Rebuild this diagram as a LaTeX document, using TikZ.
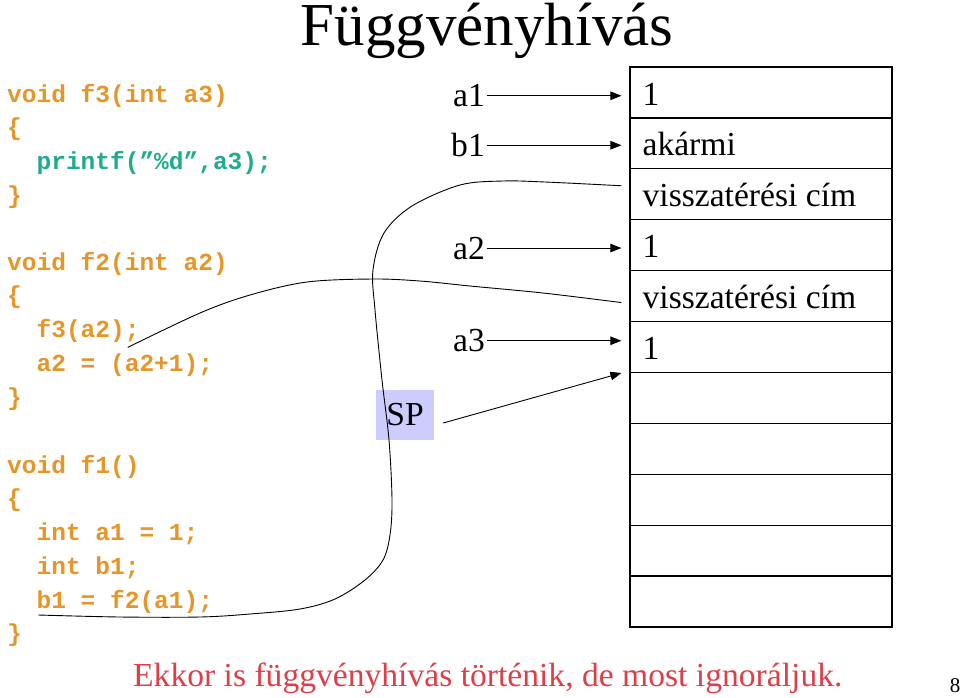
\documentclass[tikz,border=0pt]{standalone}
\usepackage{fontspec}
\setmainfont{Liberation Serif}
\newfontfamily\codefont{Liberation Mono}
\usetikzlibrary{arrows.meta,calc}
\definecolor{codeor}{RGB}{230,150,40}
\definecolor{codeteal}{RGB}{30,172,140}
\definecolor{notered}{RGB}{222,62,72}
\definecolor{spfill}{RGB}{204,204,255}
\begin{document}
\begin{tikzpicture}[x=1pt,y=-1pt,
  code/.style={anchor=base west,inner sep=0pt,font=\codefont\bfseries\fontsize{24.5}{24.5}\selectfont,text=codeor},
  stk/.style={anchor=base west,inner sep=0pt,font=\fontsize{33.6}{33.6}\selectfont},
  lbl/.style={anchor=base east,inner sep=0pt,font=\fontsize{33.6}{33.6}\selectfont},
  cell/.style={draw,line width=1.2pt,minimum width=262pt,minimum height=50.9pt,inner sep=0pt},
  arr/.style={line width=0.9pt,-{Triangle[length=11pt,width=8.5pt]}},
  curve/.style={line width=0.9pt}]
\useasboundingbox[fill=white] (0,0) rectangle (960,697);

% title
\node[anchor=base,inner sep=0pt,text height=38pt,text depth=12pt,font=\fontsize{61}{61}\selectfont] (title) at (487,45) {Függvényhívás};

% code
\node[code] (c1) at (7,102) {void f3(int a3)};
\node[code] (c2) at (7,135.7) {\{};
\node[code,text=codeteal] (c3) at (36.4,169.4) {printf(”\%d”,a3);};
\node[code] (c4) at (7,203) {\}};
\node[code] (c5) at (7,270) {void f2(int a2)};
\node[code] (c6) at (7,303.7) {\{};
\node[code] (c7) at (36.4,337.4) {f3(a2);};
\node[code] (c8) at (36.4,371) {a2 = (a2+1);};
\node[code] (c9) at (7,405) {\}};
\node[code] (c10) at (7,473) {void f1()};
\node[code] (c11) at (7,506.7) {\{};
\node[code] (c12) at (36.4,540.4) {int a1 = 1;};
\node[code] (c13) at (36.4,574) {int b1;};
\node[code] (c14) at (36.4,608) {b1 = f2(a1);};
\node[code] (c15) at (7,641) {\}};

% stack
\foreach \i in {1,...,11}
  \node[cell] (s\i) at (761,{67+50.9*\i-25.45}) {};
\node[stk] (t1) at ($(s1.north west)+(13,38.6)$) {1};
\node[stk] (t2) at ($(s2.north west)+(13,38.6)$) {akármi};
\node[stk] (t3) at ($(s3.north west)+(13,38.6)$) {visszatérési cím};
\node[stk] (t4) at ($(s4.north west)+(13,38.6)$) {1};
\node[stk] (t5) at ($(s5.north west)+(13,38.6)$) {visszatérési cím};
\node[stk] (t6) at ($(s6.north west)+(13,38.6)$) {1};

% labels and arrows
\node[lbl] (a1) at (485,106.7) {a1};
\node[lbl] (b1) at (485,156.7) {b1};
\node[lbl] (a2) at (485,259) {a2};
\node[lbl] (a3) at (485,351.7) {a3};
\draw[arr,shorten <=2pt,shorten >=8pt] (a1.east) -- (a1.east -| s1.west);
\draw[arr,shorten <=2pt,shorten >=8pt] (b1.east) -- (b1.east -| s2.west);
\draw[arr,shorten <=2pt,shorten >=8pt] (a2.east) -- (a2.east -| s4.west);
\draw[arr,shorten <=2pt,shorten >=8pt] (a3.east) -- (a3.east -| s6.west);

% SP
\node[fill=spfill,minimum width=58pt,minimum height=50pt,inner sep=0pt,font=\fontsize{33.6}{33.6}\selectfont] (sp) at (405,415) {SP};
\coordinate (spfrom) at ($(sp.east)+(9,8)$);
\coordinate (sptip) at ($(s6.south west)+(-8,0)$);

% return-address curves
\coordinate (r1) at ($(s3.west)+(-8,-8.5)$);
\coordinate (u1) at ($(c14.base west)+(2,7)$);
\coordinate (r2) at ($(s5.west)+(-8,6.5)$);
\coordinate (u2) at ($(c7.base east)+(-12,10)$);
\draw[curve] plot[smooth,tension=0.55] coordinates {(r1) (545,182) (503,181) (460,185) (412,206) (384,233) (373,270) (375,310) (382,380) (389,440) (392,500) (390,535) (383,560) (365,580) (335,599) (300,609) (250,614) (200,617) (120,617) (u1)};
\draw[curve] plot[smooth,tension=0.55] coordinates {(r2) (543,293) (470,286) (420,281) (373,279) (307,282) (250,295) (200,313) (u2)};

\draw[arr] (spfrom) -- (sptip);

% footer
\node[anchor=base west,inner sep=0pt,text=notered,font=\fontsize{33.6}{33.6}\selectfont] (note) at (133,686) {Ekkor is függvényhívás történik, de most ignoráljuk.};
\node[anchor=base,inner sep=0pt,font=\fontsize{21}{21}\selectfont] (pg) at (955,692) {8};
\end{tikzpicture}
\end{document}
